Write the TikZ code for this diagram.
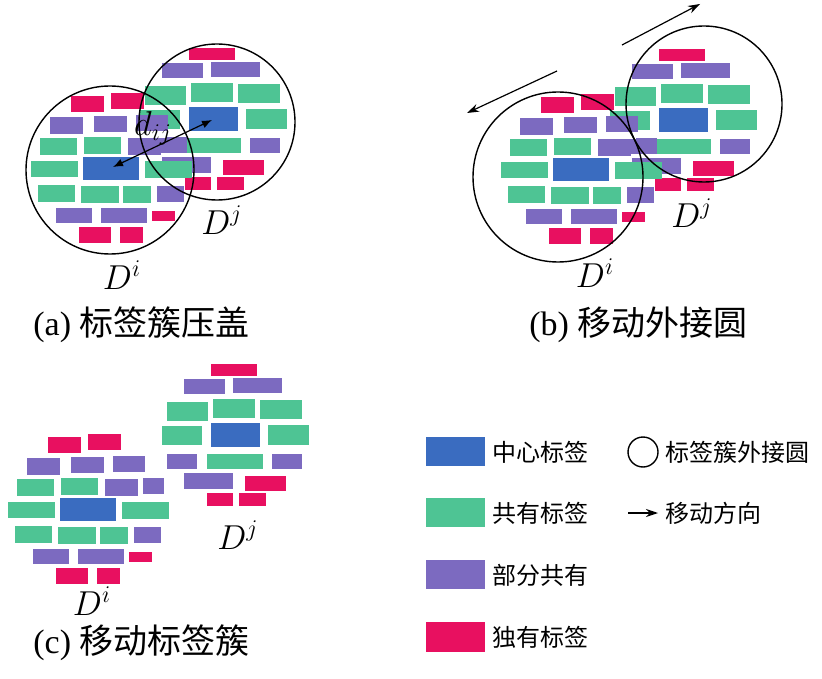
\documentclass[tikz,border=0pt]{standalone}
\usepackage{fontspec}
\usepackage{amsmath}
\usetikzlibrary{arrows.meta}
\setmainfont{Liberation Serif}
\newfontfamily\cjk{Noto Sans CJK SC}

\definecolor{ctrblue}{RGB}{58,108,192}
\definecolor{shrgreen}{RGB}{78,196,148}
\definecolor{prtpurple}{RGB}{124,106,192}
\definecolor{ownred}{RGB}{232,16,96}

% one row of tag boxes: style, list of x1/y1/x2/y2
\newcommand{\tagboxes}[2]{\foreach \xa/\ya/\xb/\yb in {#2} {\fill[#1] (\xa,\ya) rectangle (\xb,\yb);}}

% cluster D^i
\newcommand{\clusterI}{
\tagboxes{own}{71/96/104/112, 111/93/144/109, 152/211/175/221, 79/227/111/243, 120/227/143/243}
\tagboxes{prt}{50/117/83/134, 94/116/127/132, 136/115/168/131, 128/138/161/155, 166/137/187/153, 157/186/184/202, 56/208/92/223, 101/208/147/223}
\tagboxes{shr}{40/138/77/155, 84/137/121/154, 31/161/78/177, 145/161/192/178, 38/185/75/202, 81/186/119/203, 123/186/151/203}
\tagboxes{ctr}{83/157/139/180}
}
% cluster D^j
\newcommand{\clusterJ}{
\tagboxes{own}{189/48/235/60, 223/160/264/175, 185/177/211/190, 217/177/244/190}
\tagboxes{prt}{162/63/203/78, 211/62/260/77, 145/138/175/153, 250/138/280/153, 162/157/211/173}
\tagboxes{shr}{145/86/186/105, 191/83/233/102, 238/84/280/103, 140/110/180/129, 246/109/287/129, 185/138/241/153}
\tagboxes{ctr}{189/107/238/131}
}

\begin{document}
\begin{tikzpicture}[x=0.5pt, y=-0.5pt]
\tikzset{ctr/.style={fill=ctrblue}, shr/.style={fill=shrgreen},
  prt/.style={fill=prtpurple}, own/.style={fill=ownred},
  hull/.style={draw=black, line width=0.7pt},
  move/.style={-{Stealth[length=6pt,width=4pt]}, line width=0.6pt},
  dlabel/.style={font=\fontsize{17}{20}\selectfont, inner sep=0pt},
  caption/.style={anchor=west, inner sep=0pt, font=\fontsize{17}{20}\selectfont},
  legtext/.style={anchor=west, inner sep=0pt, font=\cjk\fontsize{12}{14}\selectfont}}
\useasboundingbox[fill=white] (0,0) rectangle (822,678);

% (a) overlapping clusters
\clusterJ
\clusterI
\draw[hull] (217,122) circle[radius=39pt];
\draw[hull] (110,170) circle[radius=42pt];
\coordinate (ci) at (113,167);
\coordinate (cj) at (212,120);
\draw[{Latex[length=5pt,width=4pt]}-{Latex[length=5pt,width=4pt]}, line width=0.6pt] (ci) -- (cj);
\node[dlabel] (dij) at (153,128) {$d_{ij}$};
\node[dlabel] (Dia) at (122,275) {$D^i$};
\node[dlabel] (Dja) at (222,220) {$D^j$};
\node[caption] (capa) at (33,325) {(a) {\cjk 标签簇压盖}};

% (b) moving hull circles
\begin{scope}[shift={(470,1)}]
\clusterJ
\clusterI
\end{scope}
\draw[hull] (704,104) circle[radius=39pt];
\draw[hull] (558,177) circle[radius=42.5pt];
\coordinate (mi0) at (557,71);
\coordinate (mi1) at (467,113);
\coordinate (mj0) at (622,45);
\coordinate (mj1) at (700,4);
\draw[move] (mi0) -- (mi1);
\draw[move] (mj0) -- (mj1);
\node[dlabel] (Dib) at (595,273) {$D^i$};
\node[dlabel] (Djb) at (692,213) {$D^j$};
\node[caption] (capb) at (529,325) {(b) {\cjk 移动外接圆}};

% (c) moved clusters
\begin{scope}[shift={(22,316)}]
\clusterJ
\end{scope}
\begin{scope}[shift={(-23,341)}]
\clusterI
\end{scope}
\node[dlabel] (Dic) at (92,601) {$D^i$};
\node[dlabel] (Djc) at (238,535) {$D^j$};
\node[caption] (capc) at (33,643) {(c) {\cjk 移动标签簇}};

% legend
\fill[ctr] (426,437) rectangle (485,466);
\fill[shr] (426,498) rectangle (485,527);
\fill[prt] (426,560) rectangle (485,589);
\fill[own] (426,622) rectangle (485,652);
\node[legtext] (lctr) at (492,452) {中心标签};
\node[legtext] (lshr) at (492,513) {共有标签};
\node[legtext] (lprt) at (492,575) {部分共有};
\node[legtext] (lown) at (492,637) {独有标签};
\draw[hull] (643,452) circle[radius=7.5pt];
\node[legtext] (lhull) at (665,452) {标签簇外接圆};
\coordinate (la0) at (628,513);
\coordinate (la1) at (658,513);
\draw[move] (la0) -- (la1);
\node[legtext] (lmove) at (665,513) {移动方向};
\end{tikzpicture}
\end{document}
